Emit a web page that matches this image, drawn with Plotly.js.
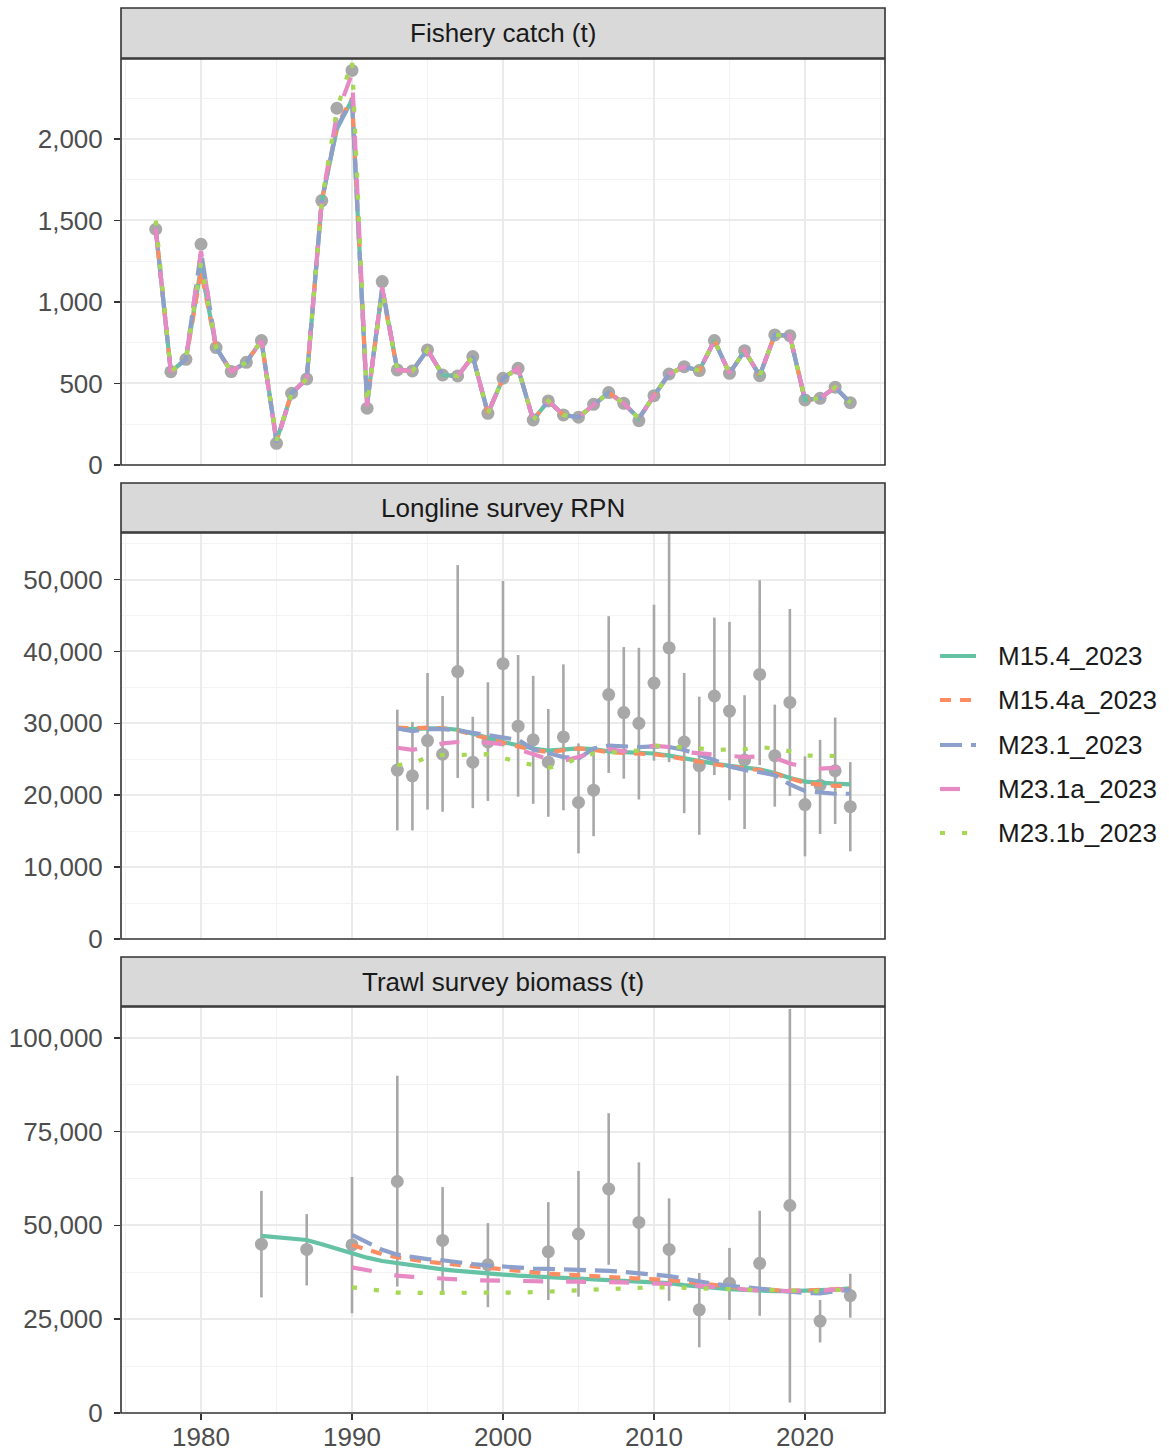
<!DOCTYPE html>
<html>
<head>
<meta charset="utf-8">
<script src="https://cdn.plot.ly/plotly-3.0.1.min.js"></script>
<style>html,body{margin:0;padding:0;background:#fff;}#chart{width:1169px;height:1452px;}</style>
</head>
<body>
<div id="chart"></div>
<script>
// ---------------- data ----------------
const modelNames = ["M15.4_2023", "M15.4a_2023", "M23.1_2023", "M23.1a_2023", "M23.1b_2023"];
const panelTitles = ["Fishery catch (t)", "Longline survey RPN", "Trawl survey biomass (t)"];

// Fishery catch
const catchYears = [1977,1978,1979,1980,1981,1982,1983,1984,1985,1986,1987,1988,1989,1990,1991,1992,1993,1994,1995,1996,1997,1998,1999,2000,2001,2002,2003,2004,2005,2006,2007,2008,2009,2010,2011,2012,2013,2014,2015,2016,2017,2018,2019,2020,2021,2022,2023];
const catchObs = [1446,572,648,1354,720,573,630,763,133,440,528,1622,2188,2420,348,1125,583,577,706,552,546,665,317,532,593,276,393,307,293,372,444,378,272,425,558,603,579,763,562,701,548,798,793,399,409,477,382];
const catchM15_4  = [1450,572,648,1210,720,573,630,763,150,440,528,1622,2060,2240,380,1080,583,577,706,552,546,665,317,532,593,276,393,307,293,372,444,378,285,425,558,603,579,763,562,701,548,798,793,399,409,477,382];
const catchM15_4a = [1450,572,648,1190,720,573,630,763,150,440,528,1622,2080,2250,380,1070,583,577,706,552,546,665,317,532,593,276,393,307,293,372,444,378,285,425,558,603,579,763,562,701,548,798,793,399,409,477,382];
const catchM23_1  = [1450,572,648,1310,720,573,630,763,140,440,528,1622,2070,2240,370,1090,583,577,706,552,546,665,317,532,593,276,393,307,293,372,444,378,285,425,558,603,579,763,562,701,548,798,793,399,409,477,382];
const catchM23_1a = [1450,572,648,1310,720,573,630,763,140,440,528,1622,2150,2400,360,1090,583,577,706,552,546,665,317,532,593,276,393,307,293,372,444,378,285,425,558,603,579,763,562,701,548,798,793,399,409,477,382];
const catchM23_1b = [1500,572,648,1240,720,573,630,763,150,440,528,1622,2180,2480,370,1060,583,577,706,552,546,665,317,532,593,276,393,307,293,372,444,378,285,425,558,603,579,763,562,701,548,798,793,399,409,477,382];

// Longline survey RPN
const llYears = [1993,1994,1995,1996,1997,1998,1999,2000,2001,2002,2003,2004,2005,2006,2007,2008,2009,2010,2011,2012,2013,2014,2015,2016,2017,2018,2019,2020,2021,2022,2023];
const llObs  = [23500,22700,27600,25700,37200,24600,27400,38300,29600,27700,24600,28100,19000,20700,34000,31500,30000,35600,40500,27400,24100,33800,31700,24900,36800,25500,32900,18700,21400,23400,18400];
const llLow  = [15100,15100,18000,17700,22400,18200,19200,26800,19800,18800,17000,17900,11900,14300,23100,22300,19400,24800,24600,17500,14500,22800,19300,15300,24200,18400,19900,11500,14600,16000,12200];
const llHigh = [31900,30200,37000,33800,52000,30900,35700,49800,39500,36600,32000,38200,27200,26300,44900,40600,40500,46500,56400,37000,33700,44700,44100,33900,49900,32600,45900,25400,27700,30800,24600];
const llM15_4  = [29300,29200,29300,29300,29100,28600,28000,27400,26900,26500,26200,26300,26500,26400,26100,26000,25900,25800,25500,25100,24800,24400,24100,23900,23600,23100,22400,21900,21700,21600,21500];
const llM15_4a = [29400,29300,29400,29300,29000,28500,27900,27300,26800,26300,26000,26200,26500,26300,26000,25900,25800,25700,25400,25000,24700,24300,24000,23800,23500,23000,22300,21700,21500,21300,21300];
const llM23_1  = [29300,28900,29200,29200,29000,28700,28400,28100,27700,26400,25900,25300,25100,26500,26900,26800,26700,26800,26700,26300,25600,24900,24000,23500,23200,22800,21500,20600,20400,20200,20200];
const llM23_1a = [26600,26300,26700,27200,27400,27400,27300,27100,26400,25600,25000,24800,25300,26000,26400,26100,26400,26900,26700,26000,25800,25700,25500,25300,25400,25200,24400,23900,23700,23800,23900];
const llM23_1b = [24200,24400,25300,25600,25600,25700,25700,25200,24600,24200,23800,24300,25200,25800,25900,26000,26200,26900,26800,26600,26500,26300,26300,26400,26700,26500,26100,25500,25500,25500,25400];

// Trawl survey biomass
const twYears = [1984,1987,1990,1993,1996,1999,2003,2005,2007,2009,2011,2013,2015,2017,2019,2021,2023];
const twObs  = [45000,43600,44800,61700,46000,39500,43000,47700,59700,50800,43600,27500,34600,39900,55300,24500,31300];
const twLow  = [30800,34000,26600,33700,31900,28200,30100,31000,39500,34700,29900,17500,24800,25900,2800,18800,25400];
const twHigh = [59200,53000,62900,89900,60200,50600,56200,64500,79900,66800,57200,37300,44000,53900,107700,30100,37100];
const twYearsM15_4 = [1984,1985,1986,1987,1988,1989,1990,1991,1992,1993,1994,1995,1996,1997,1998,1999,2000,2001,2002,2003,2004,2005,2006,2007,2008,2009,2010,2011,2012,2013,2014,2015,2016,2017,2018,2019,2020,2021,2022,2023];
const twM15_4 = [47200,46900,46500,46100,45000,43800,42700,41400,40500,39900,39300,38800,38300,37900,37500,37200,36900,36600,36400,36200,36000,35800,35600,35500,35300,35100,35000,34600,34100,33700,33300,33000,32800,32600,32500,32500,32600,32700,32900,33200];
const twYearsOther = [1990,1991,1992,1993,1994,1995,1996,1997,1998,1999,2000,2001,2002,2003,2004,2005,2006,2007,2008,2009,2010,2011,2012,2013,2014,2015,2016,2017,2018,2019,2020,2021,2022,2023];
const twM15_4a = [44800,43600,42300,41500,40800,40300,39900,39500,39000,38600,38200,37900,37300,37100,36900,36700,36500,36400,36200,36000,35700,35400,35000,34500,34000,33600,33200,32900,32700,32600,32600,32700,33000,33300];
const twM23_1  = [47500,45500,43500,42200,41600,41000,40700,40100,39700,39300,39000,38700,38500,38400,38300,38200,38100,37900,37600,37300,37000,36500,35800,35000,34400,33900,33500,33200,32700,32300,32000,31900,32300,32900];
const twM23_1a = [38800,38000,37300,36600,36300,36000,35800,35600,35400,35300,35200,35100,35100,35000,35000,35000,35000,34900,34800,34700,34600,34500,34200,33900,33600,33200,32800,32600,32500,32500,32500,32600,32900,33100];
const twM23_1b = [33500,33000,32500,32100,32000,32000,31900,31900,31900,31900,32000,32100,32200,32300,32500,32700,32900,33100,33200,33400,33500,33500,33300,33200,33100,33000,32800,32800,32800,32600,32500,32500,32800,33000];

// ---------------- styling ----------------
const colors = ["#66C2A5", "#FC8D62", "#8DA0CB", "#E78AC3", "#A6D854"];
const dashes = ["solid", "11px,9px", "22px,9px", "20px,23px", "5px,17px"];
const ptColor = "#A8A8A8";
const FONT = "Liberation Sans, Arial, Helvetica, sans-serif";

const panels = [
  {obsX: catchYears, obsY: catchObs, low: null, high: null,
   models: [[catchYears, catchM15_4],[catchYears, catchM15_4a],[catchYears, catchM23_1],[catchYears, catchM23_1a],[catchYears, catchM23_1b]],
   range: [0, 2490], dtick: 500},
  {obsX: llYears, obsY: llObs, low: llLow, high: llHigh,
   models: [[llYears, llM15_4],[llYears, llM15_4a],[llYears, llM23_1],[llYears, llM23_1a],[llYears, llM23_1b]],
   range: [0, 56470], dtick: 10000},
  {obsX: twYears, obsY: twObs, low: twLow, high: twHigh,
   models: [[twYearsM15_4, twM15_4],[twYearsOther, twM15_4a],[twYearsOther, twM23_1],[twYearsOther, twM23_1a],[twYearsOther, twM23_1b]],
   range: [0, 108200], dtick: 25000}
];

const totalH = 1452, mT = 8, mB = 39, mL = 121, mR = 284;
const plotH = totalH - mT - mB, plotW = 1169 - mL - mR;
const py = p => (1413 - p) / plotH;   // pixel row -> paper y
const px = p => (p - mL) / plotW;     // pixel column -> paper x
const panelDom = [[py(465), py(59)], [py(939), py(533)], [py(1413), py(1007)]];
const stripDom = [[py(58), py(8)], [py(532), py(483)], [py(1006), py(957)]];

const traces = [];
const layout = {
  width: 1169, height: 1452,
  margin: {l: mL, r: mR, t: mT, b: mB, pad: 0},
  paper_bgcolor: "#ffffff", plot_bgcolor: "#ffffff",
  font: {family: FONT, size: 26, color: "#4D4D4D"},
  showlegend: false,
  shapes: [], annotations: []
};

panels.forEach((P, i) => {
  const xa = i === 0 ? "x" : "x" + (i + 1);
  const ya = i === 0 ? "y" : "y" + (i + 1);
  const obs = {x: P.obsX, y: P.obsY, xaxis: xa, yaxis: ya, type: "scatter", mode: "markers",
    marker: {color: ptColor, size: 13}, showlegend: false, hoverinfo: "skip", cliponaxis: true};
  if (P.low) {
    obs.error_y = {type: "data", symmetric: false,
      array: P.high.map((h, k) => h - P.obsY[k]),
      arrayminus: P.low.map((l, k) => P.obsY[k] - l),
      color: ptColor, thickness: 2.6, width: 0};
  }
  traces.push(obs);
  P.models.forEach((m, j) => {
    traces.push({x: m[0], y: m[1], xaxis: xa, yaxis: ya, type: "scatter", mode: "lines",
      name: modelNames[j], legendgroup: modelNames[j], showlegend: false,
      line: {color: colors[j], width: 4.2, dash: dashes[j]}, hoverinfo: "skip"});
  });

  const isBottom = i === 2;
  layout[i === 0 ? "xaxis" : "xaxis" + (i + 1)] = {
    domain: [0, 1], anchor: ya, range: [1974.7, 2025.3], dtick: 10, tick0: 1980,
    showticklabels: isBottom, ticks: isBottom ? "outside" : "", ticklen: 6, tickwidth: 1.6, tickcolor: "#333333",
    ticklabelstandoff: -5,
    tickfont: {family: FONT, size: 26, color: "#4D4D4D"},
    showgrid: true, gridcolor: "#EBEBEB", gridwidth: 2,
    minor: {dtick: 5, tick0: 1975, showgrid: true, gridcolor: "#F3F3F3", gridwidth: 1, ticks: ""},
    zeroline: false, showline: false, matches: i === 0 ? undefined : "x", fixedrange: true
  };
  layout[i === 0 ? "yaxis" : "yaxis" + (i + 1)] = {
    domain: panelDom[i], anchor: xa, range: P.range, dtick: P.dtick, tick0: 0, tickformat: ",",
    ticks: "outside", ticklen: 6, tickwidth: 1.6, tickcolor: "#333333", ticklabelstandoff: 6,
    tickfont: {family: FONT, size: 26, color: "#4D4D4D"},
    showgrid: true, gridcolor: "#EBEBEB", gridwidth: 2,
    minor: {dtick: P.dtick / 2, tick0: 0, showgrid: true, gridcolor: "#F3F3F3", gridwidth: 1, ticks: ""},
    zeroline: false, showline: false, fixedrange: true
  };
  // panel border
  layout.shapes.push({type: "rect", xref: "paper", yref: "paper", x0: 0, x1: 1,
    y0: panelDom[i][0], y1: panelDom[i][1], line: {color: "#333333", width: 1.6}, fillcolor: "rgba(0,0,0,0)", layer: "above"});
  // strip
  layout.shapes.push({type: "rect", xref: "paper", yref: "paper", x0: 0, x1: 1,
    y0: stripDom[i][0], y1: stripDom[i][1], line: {color: "#333333", width: 1.6}, fillcolor: "#D9D9D9", layer: "above"});
  layout.annotations.push({text: panelTitles[i], xref: "paper", yref: "paper", x: 0.5,
    y: (stripDom[i][0] + stripDom[i][1]) / 2, xanchor: "center", yanchor: "middle", showarrow: false,
    font: {family: FONT, size: 26, color: "#1A1A1A"}});
});

// legend (drawn as keys + labels to the right of the panels)
const legendRows = [656, 700, 745, 789, 833];
modelNames.forEach((name, j) => {
  const yy = py(legendRows[j]);
  layout.shapes.push({type: "line", xref: "paper", yref: "paper", x0: px(940), x1: px(976), y0: yy, y1: yy,
    line: {color: colors[j], width: 4.2, dash: dashes[j]}});
  layout.annotations.push({text: name, xref: "paper", yref: "paper", x: px(996), y: yy,
    xanchor: "left", yanchor: "middle", showarrow: false,
    font: {family: FONT, size: 26, color: "#1A1A1A"}});
});

Plotly.newPlot("chart", traces, layout, {staticPlot: true, displayModeBar: false});
</script>
</body>
</html>
